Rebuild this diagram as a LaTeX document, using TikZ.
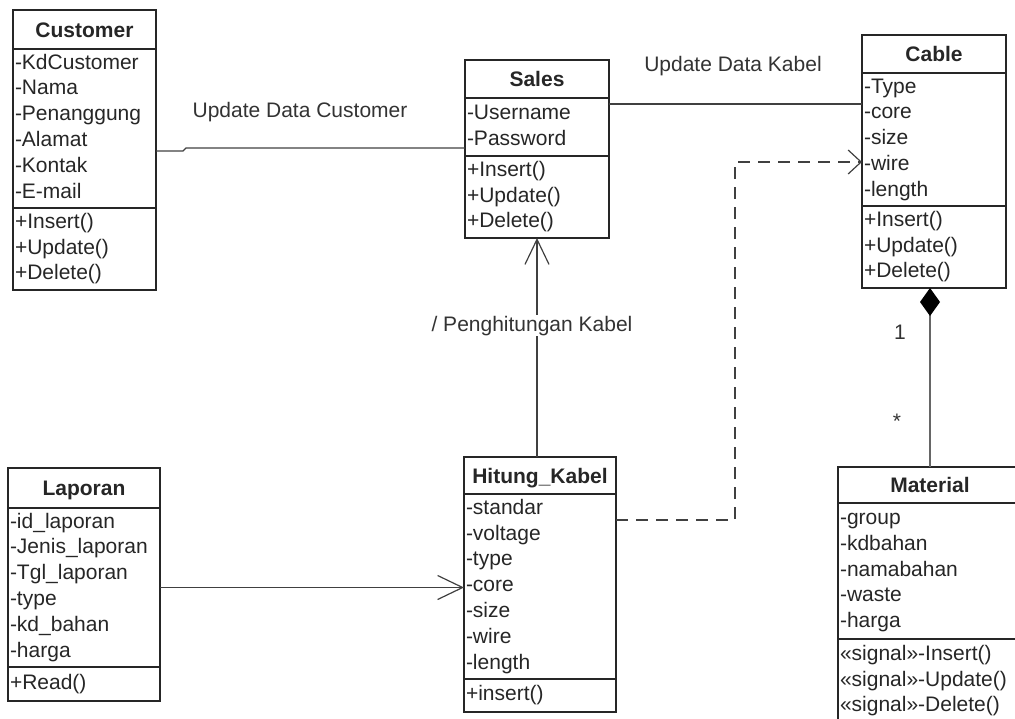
\documentclass[tikz,border=0pt]{standalone}
\usepackage{fontspec}
\setmainfont{Liberation Sans}
\usetikzlibrary{arrows.meta}

\tikzset{
  box/.style={draw=black!85, line width=1.4pt, inner xsep=2pt, inner ysep=0pt, outer sep=0pt, text=black!85},
  classname/.style={box, minimum width=#1, font=\fontsize{21}{24}\selectfont\bfseries, text height=15pt, text depth=0pt},
  members/.style={box, text width=#1, align=left, font=\fontsize{21}{25.8}\selectfont,
    execute at begin node=\strut, execute at end node=\strut},
  link/.style={draw=black!75, line width=1.2pt},
  opentip/.style={-{Straight Barb[length=25pt,width=24pt]}},
  lbl/.style={font=\fontsize{21}{24}\selectfont, text=black!80, inner sep=1pt}
}

\begin{document}
\begin{tikzpicture}[x=1pt,y=-1pt]
  \useasboundingbox (0,0) rectangle (1015,718);
  \clip (0,0) rectangle (1015,718);

  \node[classname=143pt, minimum height=39pt, anchor=north west] (cust) at (13,10) {Customer};
  \node[members=139pt, minimum height=159pt, anchor=north] (cust-a) at (cust.south) {-KdCustomer\\-Nama\\-Penanggung\\-Alamat\\-Kontak\\-E-mail};
  \node[members=139pt, minimum height=82pt, anchor=north] (cust-m) at (cust-a.south) {+Insert()\\+Update()\\+Delete()};

  \node[classname=144pt, minimum height=38pt, anchor=north west] (sales) at (465,60) {Sales};
  \node[members=140pt, minimum height=58pt, anchor=north] (sales-a) at (sales.south) {-Username\\-Password};
  \node[members=140pt, minimum height=82pt, anchor=north] (sales-m) at (sales-a.south) {+Insert()\\+Update()\\+Delete()};

  \node[classname=144pt, minimum height=38pt, anchor=north west] (cable) at (862,35) {Cable};
  \node[members=140pt, minimum height=133pt, anchor=north] (cable-a) at (cable.south) {-Type\\-core\\-size\\-wire\\-length};
  \node[members=140pt, minimum height=82pt, anchor=north] (cable-m) at (cable-a.south) {+Insert()\\+Update()\\+Delete()};

  \node[classname=152pt, minimum height=40pt, anchor=north west] (lap) at (8,468) {Laporan};
  \node[members=148pt, minimum height=159pt, anchor=north] (lap-a) at (lap.south) {-id\_laporan\\-Jenis\_laporan\\-Tgl\_laporan\\-type\\-kd\_bahan\\-harga};
  \node[members=148pt, minimum height=34pt, anchor=north] (lap-m) at (lap-a.south) {+Read()};

  \node[classname=152pt, minimum height=37pt, anchor=north west] (hitung) at (464,457) {Hitung\_Kabel};
  \node[members=148pt, minimum height=185pt, anchor=north] (hitung-a) at (hitung.south) {-standar\\-voltage\\-type\\-core\\-size\\-wire\\-length};
  \node[members=148pt, minimum height=33pt, anchor=north] (hitung-m) at (hitung-a.south) {+insert()};

  \node[classname=184pt, minimum height=36pt, anchor=north west] (mat) at (838,467) {Material};
  \node[members=180pt, minimum height=136pt, anchor=north] (mat-a) at (mat.south) {-group\\-kdbahan\\-namabahan\\-waste\\-harga};
  \node[members=180pt, minimum height=84pt, anchor=north] (mat-m) at (mat-a.south) {«signal»-Insert()\\«signal»-Update()\\«signal»-Delete()};

  \node[lbl] (lcust) at (300,112) {Update Data Customer};
  \node[lbl] (lcable) at (733,66) {Update Data Kabel};
  \node[lbl] (lone) at (900,332) {1};
  \node[lbl] (lmany) at (897,421) {*};

  \coordinate (dbend) at (735,162);

  \draw[link] ([yshift=-22.5pt]cust-a.east) -- ++(27,0) -- ++(3,-3) -- ([yshift=-21pt]sales-a.west);
  \draw[link] ([yshift=23pt]sales-a.east) -- ([yshift=35.5pt]cable-a.west);
  \draw[link, dash pattern=on 12pt off 8pt, -{Straight Barb[length=13pt,width=24pt]}] ([yshift=66.5pt]hitung-a.east) -| (dbend) -- (cable-a.west |- dbend);
  \draw[link, opentip] (sales-m.south |- hitung.north) -- node[lbl, pos=0.6, fill=white, xshift=-5pt] (lcalc) {/ Penghitungan Kabel} (sales-m.south);
  \draw[link, opentip] (lap-a.east) -- (lap-a.east -| hitung-a.west);
  \draw[link, draw=black!60, line width=1.6pt, {Diamond[length=28pt,width=20pt,color=black]}-] (cable-m.south -| mat.north) -- (mat.north);
\end{tikzpicture}
\end{document}
